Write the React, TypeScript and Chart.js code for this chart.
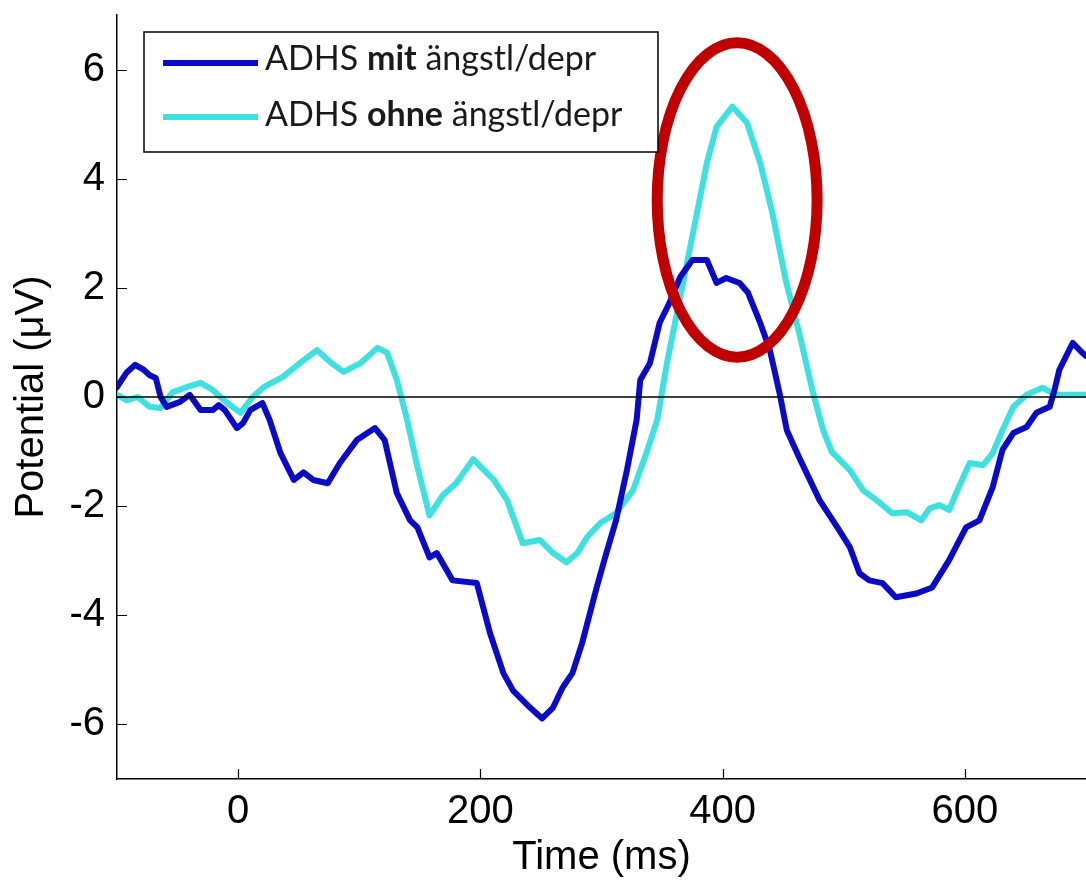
import React, { useEffect, useRef } from 'react';
import { Chart, registerables } from 'chart.js';

Chart.register(...registerables);

// ---- Data ----
const mitTimes = [
  -100, -92, -85, -78, -73, -68, -64, -59, -48, -40, -31, -21, -16, -11, -1, 4, 10, 20, 26, 35,
  46, 54, 62, 74, 84, 98, 113, 121, 131, 142, 148, 158, 164, 177, 197, 208, 219, 227, 241, 251,
  260, 268, 276, 284, 296, 304, 312, 321, 329, 332, 340, 348, 356, 365, 375, 387, 395, 403, 414, 421,
  431, 439, 447, 453, 463, 480, 495, 505, 513, 521, 532, 543, 560, 573, 587, 601, 612, 623, 631, 640,
  651, 659, 670, 674, 678, 689, 697, 700,
];
const mitValues = [
  0.18, 0.45, 0.59, 0.5, 0.4, 0.35, 0.0, -0.18, -0.09, 0.04, -0.24, -0.24, -0.15, -0.24, -0.57, -0.48, -0.24, -0.11, -0.42, -1.03,
  -1.52, -1.38, -1.52, -1.58, -1.21, -0.79, -0.57, -0.79, -1.76, -2.26, -2.39, -2.94, -2.86, -3.36, -3.41, -4.33, -5.06, -5.38, -5.69, -5.89,
  -5.69, -5.32, -5.06, -4.51, -3.49, -2.86, -2.26, -1.34, -0.42, 0.31, 0.62, 1.36, 1.72, 2.2, 2.51, 2.51, 2.09, 2.18, 2.09, 1.91,
  1.36, 0.86, 0.07, -0.61, -1.1, -1.89, -2.4, -2.75, -3.23, -3.36, -3.41, -3.67, -3.6, -3.49, -2.99, -2.39, -2.26, -1.65, -0.97, -0.66,
  -0.55, -0.29, -0.18, 0.13, 0.5, 0.99, 0.81, 0.75,
];

const ohneTimes = [
  -100, -92, -83, -73, -64, -54, -40, -31, -21, -9, 2, 12, 21, 37, 51, 65, 76, 87, 101, 115,
  123, 131, 139, 148, 158, 169, 180, 194, 211, 222, 235, 249, 260, 271, 280, 288, 299, 312, 326, 337,
  346, 354, 365, 376, 387, 395, 408, 420, 431, 441, 452, 464, 474, 483, 490, 505, 516, 527, 540, 552,
  564, 571, 579, 587, 595, 604, 615, 623, 631, 640, 651, 664, 675, 700,
];
const ohneValues = [
  0.04, -0.06, 0.0, -0.18, -0.2, 0.09, 0.2, 0.26, 0.13, -0.11, -0.29, 0.0, 0.18, 0.37, 0.62, 0.86, 0.64, 0.46, 0.62, 0.9,
  0.81, 0.31, -0.37, -1.28, -2.17, -1.8, -1.58, -1.14, -1.52, -1.89, -2.68, -2.62, -2.86, -3.03, -2.86, -2.57, -2.31, -2.13, -1.71, -1.03,
  -0.42, 0.62, 1.83, 3.06, 4.29, 4.95, 5.32, 5.03, 4.29, 3.38, 2.15, 1.1, 0.13, -0.61, -1.0, -1.34, -1.71, -1.89, -2.13, -2.11,
  -2.26, -2.04, -1.98, -2.07, -1.65, -1.21, -1.25, -1.03, -0.61, -0.18, 0.04, 0.17, 0.04, 0.04,
];

const xTickValues = [0, 200, 400, 600];
const yTickValues = [-6, -4, -2, 0, 2, 4, 6];

const mitLegendParts = [
  { text: 'ADHS ', bold: false },
  { text: 'mit', bold: true },
  { text: ' ängstl/depr', bold: false },
];
const ohneLegendParts = [
  { text: 'ADHS ', bold: false },
  { text: 'ohne', bold: true },
  { text: ' ängstl/depr', bold: false },
];

// highlight ellipse (centre and radii in data units)
const highlightCenter = [412, 3.61];
const highlightRadii = [66, 2.88];

// ---- Styles ----
const MIT_COLOR = '#0b0bc6';
const OHNE_COLOR = '#3ee0e0';
const AXIS_FONT = '"Liberation Sans", Arial, sans-serif';
const LEGEND_FONT = 'Lato, "Open Sans", sans-serif';

const overlayPlugin = {
  id: 'overlay',
  afterDatasetsDraw(chart: any) {
    const { ctx, chartArea } = chart;
    const xs = chart.scales.x;
    const ys = chart.scales.y;
    ctx.save();

    // zero line
    const y0 = ys.getPixelForValue(0);
    ctx.beginPath();
    ctx.strokeStyle = '#000';
    ctx.lineWidth = 1.5;
    ctx.moveTo(chartArea.left, y0);
    ctx.lineTo(chartArea.right, y0);
    ctx.stroke();

    // inward tick marks
    const tickLen = 10;
    ctx.lineWidth = 1.2;
    ctx.beginPath();
    for (const v of xTickValues) {
      const px = Math.round(xs.getPixelForValue(v)) + 0.5;
      ctx.moveTo(px, chartArea.bottom);
      ctx.lineTo(px, chartArea.bottom - tickLen);
    }
    for (const v of yTickValues) {
      const py = Math.round(ys.getPixelForValue(v)) + 0.5;
      ctx.moveTo(chartArea.left, py);
      ctx.lineTo(chartArea.left + tickLen, py);
    }
    ctx.stroke();

    // highlight ellipse
    const cx = xs.getPixelForValue(highlightCenter[0]);
    const cy = ys.getPixelForValue(highlightCenter[1]);
    const rx = Math.abs(xs.getPixelForValue(highlightCenter[0] + highlightRadii[0]) - cx);
    const ry = Math.abs(ys.getPixelForValue(highlightCenter[1] + highlightRadii[1]) - cy);
    ctx.beginPath();
    ctx.strokeStyle = '#c00000';
    ctx.lineWidth = 11;
    ctx.ellipse(cx, cy, rx, ry, 0, 0, Math.PI * 2);
    ctx.stroke();

    // legend box
    const bx = chartArea.left + 27;
    const by = chartArea.top + 17;
    const bw = 514;
    const bh = 120;
    ctx.fillStyle = '#fff';
    ctx.fillRect(bx, by, bw, bh);
    ctx.strokeStyle = '#000';
    ctx.lineWidth = 1.5;
    ctx.strokeRect(bx, by, bw, bh);

    const rows = [
      { parts: mitLegendParts, color: MIT_COLOR, lineY: by + 31, baseY: by + 38 },
      { parts: ohneLegendParts, color: OHNE_COLOR, lineY: by + 85, baseY: by + 94 },
    ];
    for (const row of rows) {
      ctx.beginPath();
      ctx.strokeStyle = row.color;
      ctx.lineWidth = 6;
      ctx.moveTo(bx + 19, row.lineY);
      ctx.lineTo(bx + 114, row.lineY);
      ctx.stroke();
      let tx = bx + 121;
      ctx.fillStyle = '#1a1a1a';
      ctx.textBaseline = 'alphabetic';
      ctx.textAlign = 'left';
      for (const p of row.parts) {
        ctx.font = `${p.bold ? 'bold ' : ''}34px ${LEGEND_FONT}`;
        ctx.fillText(p.text, tx, row.baseY);
        tx += ctx.measureText(p.text).width;
      }
    }
    ctx.restore();
  },
};

export default function App() {
  const canvasRef = useRef<HTMLCanvasElement | null>(null);

  useEffect(() => {
    document.body.style.margin = '0';
    const canvas = canvasRef.current;
    if (!canvas) return;
    const chart = new Chart(canvas, {
      type: 'line',
      data: {
        datasets: [
          {
            label: 'ADHS mit ängstl/depr',
            data: mitTimes.map((t, i) => ({ x: t, y: mitValues[i] })),
            borderColor: MIT_COLOR,
            borderWidth: 6,
            pointRadius: 0,
            tension: 0,
            borderJoinStyle: 'round',
            borderCapStyle: 'round',
            fill: false,
          },
          {
            label: 'ADHS ohne ängstl/depr',
            data: ohneTimes.map((t, i) => ({ x: t, y: ohneValues[i] })),
            borderColor: OHNE_COLOR,
            borderWidth: 6,
            pointRadius: 0,
            tension: 0,
            borderJoinStyle: 'round',
            borderCapStyle: 'round',
            fill: false,
          },
        ],
      },
      options: {
        responsive: false,
        animation: false,
        devicePixelRatio: 1,
        layout: { padding: { top: 15, right: 0, bottom: 0, left: 0 } },
        plugins: {
          legend: { display: false },
          tooltip: { enabled: false },
        },
        scales: {
          x: {
            type: 'linear',
            min: -100,
            max: 700,
            afterBuildTicks: (s: any) => {
              s.ticks = xTickValues.map((v) => ({ value: v }));
            },
            afterFit: (s: any) => {
              s.height = 107;
              s.paddingLeft = 0;
              s.paddingRight = 0;
            },
            grid: { display: false, drawTicks: false },
            border: { display: true, color: '#000', width: 1.5 },
            ticks: {
              color: '#000',
              font: { family: AXIS_FONT, size: 40 },
              padding: 9,
              maxRotation: 0,
              autoSkip: false,
            },
            title: {
              display: true,
              text: 'Time (ms)',
              color: '#000',
              font: { family: AXIS_FONT, size: 40 },
              padding: { top: 0, bottom: 4 },
            },
          },
          y: {
            type: 'linear',
            min: -7,
            max: 7,
            afterBuildTicks: (s: any) => {
              s.ticks = yTickValues.map((v) => ({ value: v }));
            },
            afterFit: (s: any) => {
              s.width = 117;
              s.paddingTop = 0;
              s.paddingBottom = 0;
            },
            grid: { display: false, drawTicks: false },
            border: { display: true, color: '#000', width: 1.5 },
            ticks: {
              color: '#000',
              font: { family: AXIS_FONT, size: 40 },
              padding: 12,
              autoSkip: false,
            },
            title: {
              display: true,
              text: 'Potential (μV)',
              color: '#000',
              font: { family: AXIS_FONT, size: 40 },
              padding: { top: 8, bottom: 0 },
            },
          },
        },
      },
      plugins: [overlayPlugin],
    } as any);
    return () => chart.destroy();
  }, []);

  return (
    <div style={{ position: 'absolute', left: 0, top: 0, width: 1086, height: 886, background: '#fff' }}>
      <canvas ref={canvasRef} width={1086} height={886} />
    </div>
  );
}
